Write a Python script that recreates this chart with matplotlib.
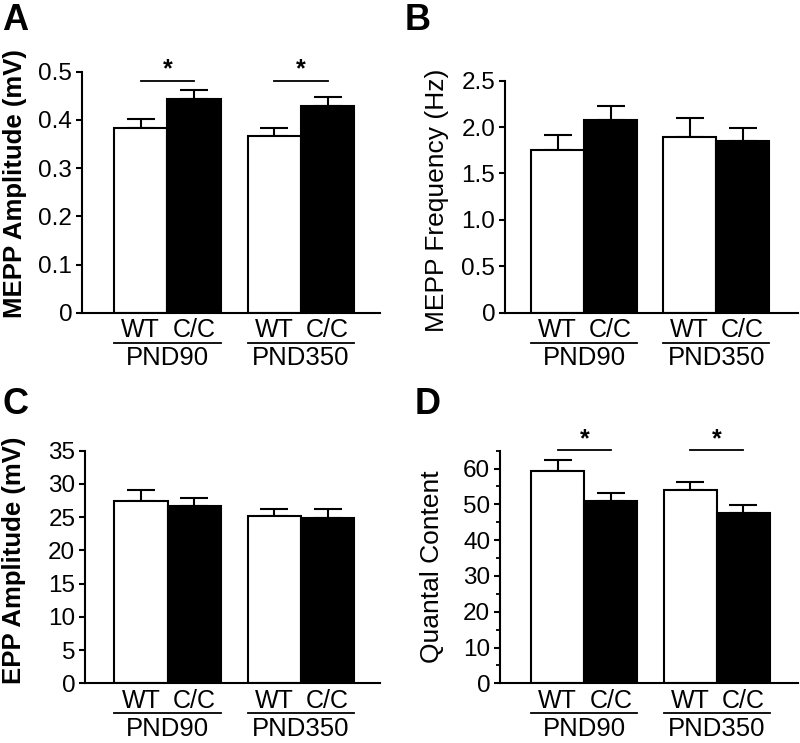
import matplotlib
matplotlib.use("Agg")
import matplotlib.pyplot as plt

plt.rcParams['font.family'] = ['Liberation Sans', 'DejaVu Sans']

groups = ["PND90", "PND350"]
genotypes = ["WT", "C/C"]

# means / SEM in order WT-PND90, C/C-PND90, WT-PND350, C/C-PND350
mepp_amp = [0.383, 0.443, 0.366, 0.428]
mepp_amp_err = [0.018, 0.019, 0.017, 0.020]
mepp_freq = [1.75, 2.08, 1.89, 1.85]
mepp_freq_err = [0.16, 0.15, 0.21, 0.14]
epp_amp = [27.5, 26.7, 25.1, 24.8]
epp_amp_err = [1.6, 1.2, 1.1, 1.4]
quantal = [59.3, 51.0, 54.1, 47.6]
quantal_err = [3.1, 2.2, 2.1, 2.2]

xpos = [0, 1, 2.5, 3.5]
W, H = 800, 743


def draw_panel(rect, vals, errs, ylabel, bold, yticks, ticklabels, ylim,
               xlim, letter, letter_xy, label_xy, minor=None, sig=None):
    ax = fig.add_axes(rect)
    ax.bar(xpos, vals, width=1.0, color=['white', 'black', 'white', 'black'],
           edgecolor='black', linewidth=1.5, zorder=2)
    ax.errorbar(xpos, vals, yerr=[[0] * 4, errs], fmt='none', ecolor='black',
                elinewidth=1.5, capsize=10, capthick=1.5, zorder=1)
    ax.set_ylim(*ylim)
    ax.set_xlim(*xlim)
    ax.set_yticks(yticks)
    ax.set_yticklabels(ticklabels)
    if minor is not None:
        ax.set_yticks(minor, minor=True)
        ax.tick_params(axis='y', which='minor', length=3, width=1.3)
    ax.set_xticks([])
    for s in ['top', 'right']:
        ax.spines[s].set_visible(False)
    for s in ['left', 'bottom']:
        ax.spines[s].set_linewidth(1.5)
    ax.tick_params(axis='y', which='major', length=4, width=1.5, pad=3,
                   labelsize=17.5)

    # group labels under the x axis (offsets in pixels)
    hpx = rect[3] * H
    def fr(px):
        return -px / hpx
    tr = ax.get_xaxis_transform()
    for i, x in enumerate(xpos):
        ax.text(x, fr(17.5), genotypes[i % 2], transform=tr, ha='center',
                va='center', fontsize=18)
    for g in range(2):
        x0 = xpos[2 * g] - 0.5
        x1 = xpos[2 * g + 1] + 0.5
        ax.plot([x0, x1], [fr(30), fr(30)], transform=tr, color='black',
                lw=1.3, clip_on=False)
        ax.text((x0 + x1) / 2, fr(45.5), groups[g], transform=tr,
                ha='center', va='center', fontsize=18.5)

    if sig is not None:
        ly, sy = sig
        for g in range(2):
            ax.plot([xpos[2 * g], xpos[2 * g + 1]], [ly, ly], color='black',
                    lw=1.3, clip_on=False)
            ax.text((xpos[2 * g] + xpos[2 * g + 1]) / 2, sy, '*',
                    ha='center', va='center', fontsize=18, fontweight='bold',
                    clip_on=False)

    fig.text(label_xy[0] / W, 1 - label_xy[1] / H, ylabel, rotation=90,
             ha='center', va='center', fontsize=18.5 if bold else 19,
             fontweight='bold' if bold else 'normal')
    fig.text(letter_xy[0] / W, 1 - letter_xy[1] / H, letter, ha='left',
             va='center', fontsize=26, fontweight='bold')
    return ax


fig = plt.figure(figsize=(8, 7.43), dpi=100)

draw_panel([82 / W, 1 - 312.7 / H, 298 / W, 241 / H], mepp_amp, mepp_amp_err,
           "MEPP Amplitude (mV)", True, [0, 0.1, 0.2, 0.3, 0.4, 0.5],
           ["0", "0.1", "0.2", "0.3", "0.4", "0.5"], (0, 0.5), (-1.1, 4.48),
           "A", (2, 21), (15, 184), sig=(0.481, 0.505))

draw_panel([505 / W, 1 - 312.7 / H, 293 / W, 232 / H], mepp_freq,
           mepp_freq_err, "MEPP Frequency (Hz)", False,
           [0, 0.5, 1.0, 1.5, 2.0, 2.5],
           ["0", "0.5", "1.0", "1.5", "2.0", "2.5"], (0, 2.5), (-1.0, 4.55),
           "B", (405, 21), (437, 200))

draw_panel([85 / W, 1 - 683.3 / H, 295 / W, 232.6 / H], epp_amp,
           epp_amp_err, "EPP Amplitude (mV)", True,
           [0, 5, 10, 15, 20, 25, 30, 35],
           ["0", "5", "10", "15", "20", "25", "30", "35"], (0, 35),
           (-1.05, 4.48), "C", (2, 404), (14, 560))

draw_panel([500 / W, 1 - 683.3 / H, 298 / W, 232.6 / H], quantal,
           quantal_err, "Quantal Content", False,
           [0, 10, 20, 30, 40, 50, 60],
           ["0", "10", "20", "30", "40", "50", "60"], (0, 65),
           (-1.09, 4.53), "D", (415, 404), (432, 567),
           minor=[5, 15, 25, 35, 45, 55, 65], sig=(65.1, 68.3))

fig.savefig("out.png", dpi=100)
